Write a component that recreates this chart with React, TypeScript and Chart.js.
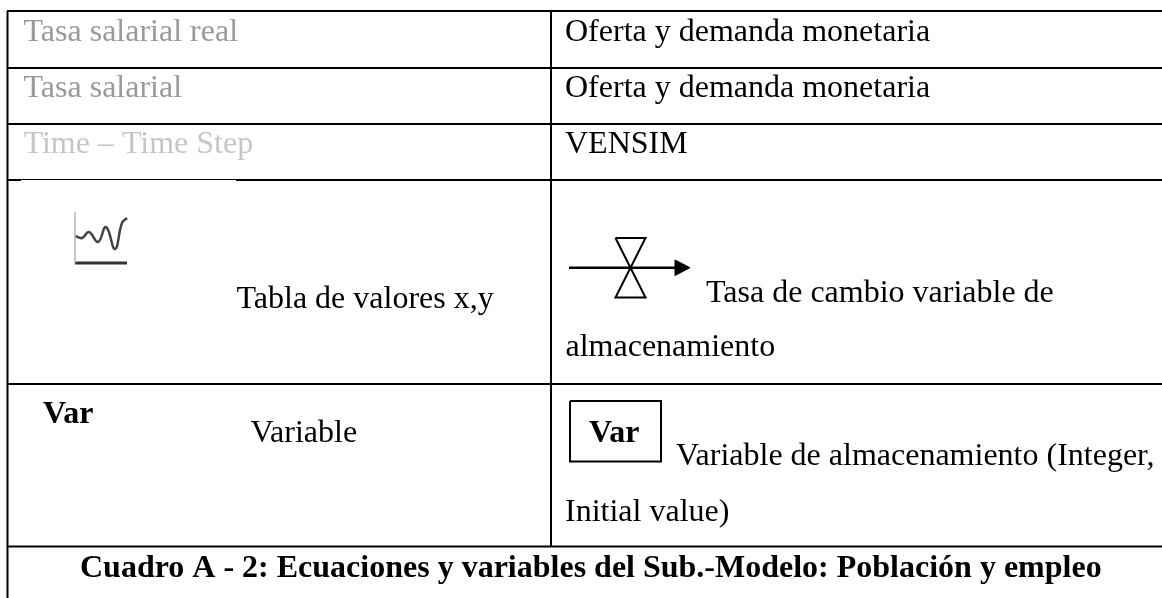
import React, { useEffect, useRef } from "react";
import { Chart, registerables } from "chart.js";

Chart.register(...registerables);

const SERIF = '"Liberation Serif", "Times New Roman", serif';

const cellTexts = [
  "Tasa salarial real", "Oferta y demanda monetaria",
  "Tasa salarial", "Oferta y demanda monetaria",
  "Time – Time Step", "VENSIM",
  "Tabla de valores x,y", "Tasa de cambio variable de", "almacenamiento",
  "Var", "Variable", "Var", "Variable de almacenamiento (Integer,", "Initial value)",
  "Cuadro A - 2: Ecuaciones y variables del Sub.-Modelo: Población y empleo",
];
const cellX = [23.5, 565, 23.5, 565, 23.5, 565, 236.5, 706, 565.5, 43, 250.5, 589, 676, 565, 80];
const cellY = [40.7, 40.7, 96.7, 96.7, 152.7, 152.7, 308, 302, 356, 423.3, 441.7, 442, 465, 520.5, 577];
const cellColors = ["#9a9a9a", "#000", "#9a9a9a", "#000", "#c6c6c6", "#000", "#000", "#000", "#000", "#000", "#000", "#000", "#000", "#000", "#000"];
const cellBold = [false, false, false, false, false, false, false, false, false, true, false, true, false, false, true];

const ruleYs = [11, 68, 124, 384, 546.5];
const colXs = [7.5];
const tableRight = 1162;
const midX = 551;

const iconCurve = [
  { x: 75, y: 236 }, { x: 82, y: 238 }, { x: 89, y: 232 }, { x: 98, y: 242 },
  { x: 106, y: 227 }, { x: 115, y: 249 }, { x: 122, y: 223 }, { x: 127, y: 218 },
];
const valveShaft = [{ x: 569, y: 267.7 }, { x: 676, y: 267.7 }];
const valveHead = [{ x: 675, y: 260 }, { x: 690, y: 267.7 }, { x: 675, y: 275.5 }, { x: 675, y: 260 }];
const valveBody = [
  { x: 615.5, y: 238 }, { x: 645.5, y: 238 }, { x: 615.5, y: 297.5 }, { x: 645.5, y: 297.5 }, { x: 615.5, y: 238 },
];
const varBox = [
  { x: 570, y: 401 }, { x: 661, y: 401 }, { x: 661, y: 461.5 }, { x: 570, y: 461.5 }, { x: 570, y: 401 },
];

function seg(data: { x: number; y: number }[], color: string, width: number, extra: object = {}) {
  return { data, borderColor: color, borderWidth: width, showLine: true, pointRadius: 0, fill: false, ...extra };
}

export default function App() {
  const ref = useRef<HTMLCanvasElement>(null);
  useEffect(() => {
    if (!ref.current) return;
    const textPlugin = {
      id: "tableText",
      afterDatasetsDraw(chart: any) {
        const { ctx, scales } = chart;
        ctx.save();
        ctx.textAlign = "left";
        ctx.textBaseline = "alphabetic";
        ctx.filter = "blur(0.35px)";
        cellTexts.forEach((t, i) => {
          ctx.font = `${cellBold[i] ? "bold " : ""}32px ${SERIF}`;
          ctx.fillStyle = cellColors[i];
          ctx.fillText(t, scales.x.getPixelForValue(cellX[i]), scales.y.getPixelForValue(cellY[i]));
        });
        ctx.restore();
      },
    };
    const chart = new Chart(ref.current, {
      type: "scatter",
      data: {
        datasets: [
          ...ruleYs.map((y) => seg([{ x: 7, y }, { x: tableRight, y }], "#000", 2)),
          seg([{ x: 7, y: 180 }, { x: 21, y: 180 }], "#000", 2),
          seg([{ x: 21, y: 179.5 }, { x: 236, y: 179.5 }], "#000", 1),
          seg([{ x: 236, y: 180 }, { x: tableRight, y: 180 }], "#000", 2),
          ...colXs.map((x) => seg([{ x, y: 11 }, { x, y: 598 }], "#000", 2)),
          seg([{ x: midX, y: 11 }, { x: midX, y: 546 }], "#000", 2),
          seg([{ x: 75, y: 212 }, { x: 75, y: 263 }], "#b5b5b5", 1.5),
          seg([{ x: 75, y: 263 }, { x: 127, y: 263 }], "#333", 3),
          seg(iconCurve, "#444", 2.5, { tension: 0.45 }),
          seg(valveShaft, "#000", 2.5),
          seg(valveHead, "#000", 1, { fill: "shape", backgroundColor: "#000" }),
          seg(valveBody, "#000", 2),
          seg(varBox, "#000", 2),
        ] as any,
      },
      options: {
        animation: false,
        responsive: false,
        events: [],
        layout: { padding: 0 },
        plugins: { legend: { display: false }, tooltip: { enabled: false }, title: { display: false } },
        scales: {
          x: { type: "linear", display: false, min: 0, max: 1162 },
          y: { type: "linear", display: false, min: 0, max: 598, reverse: true },
        },
      },
      plugins: [textPlugin],
    });
    return () => chart.destroy();
  }, []);
  return (
    <canvas
      ref={ref}
      width={1162}
      height={598}
      style={{ position: "fixed", left: 0, top: 0, width: 1162, height: 598, background: "#fff" }}
    />
  );
}
